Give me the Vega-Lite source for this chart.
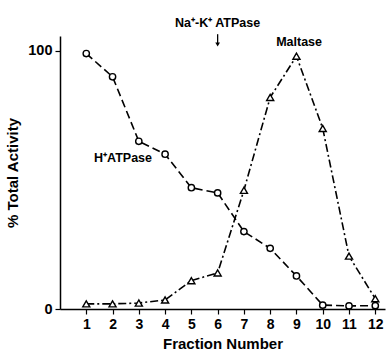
{
  "$schema": "https://vega.github.io/schema/vega-lite/v6.json",
  "autosize": "none",
  "width": 325,
  "height": 273,
  "padding": {"left": 60, "top": 36, "right": 5, "bottom": 45},
  "background": "white",
  "config": {
    "view": {"stroke": null},
    "font": "Liberation Sans",
    "axis": {"grid": false, "domainColor": "black", "tickColor": "black", "labelColor": "black", "titleColor": "black", "labelFont": "Liberation Sans", "titleFont": "Liberation Sans", "labelFontWeight": "bold", "titleFontWeight": "bold", "domainWidth": 1.5, "tickWidth": 1.2, "labelOverlap": false},
    "axisX": {"labelOverlap": false}
  },
  "datasets": {
    "curves": [
      {"fraction": 1, "activity": 99, "enzyme": "H+ATPase"},
      {"fraction": 2, "activity": 90, "enzyme": "H+ATPase"},
      {"fraction": 3, "activity": 65, "enzyme": "H+ATPase"},
      {"fraction": 4, "activity": 60, "enzyme": "H+ATPase"},
      {"fraction": 5, "activity": 47, "enzyme": "H+ATPase"},
      {"fraction": 6, "activity": 45, "enzyme": "H+ATPase"},
      {"fraction": 7, "activity": 30, "enzyme": "H+ATPase"},
      {"fraction": 8, "activity": 23.5, "enzyme": "H+ATPase"},
      {"fraction": 9, "activity": 12.8, "enzyme": "H+ATPase"},
      {"fraction": 10, "activity": 1.5, "enzyme": "H+ATPase"},
      {"fraction": 11, "activity": 1.2, "enzyme": "H+ATPase"},
      {"fraction": 12, "activity": 1.3, "enzyme": "H+ATPase"},
      {"fraction": 1, "activity": 2, "enzyme": "Maltase"},
      {"fraction": 2, "activity": 2, "enzyme": "Maltase"},
      {"fraction": 3, "activity": 2.3, "enzyme": "Maltase"},
      {"fraction": 4, "activity": 3.5, "enzyme": "Maltase"},
      {"fraction": 5, "activity": 11, "enzyme": "Maltase"},
      {"fraction": 6, "activity": 14, "enzyme": "Maltase"},
      {"fraction": 7, "activity": 46, "enzyme": "Maltase"},
      {"fraction": 8, "activity": 82, "enzyme": "Maltase"},
      {"fraction": 9, "activity": 98, "enzyme": "Maltase"},
      {"fraction": 10, "activity": 70, "enzyme": "Maltase"},
      {"fraction": 11, "activity": 20.5, "enzyme": "Maltase"},
      {"fraction": 12, "activity": 4, "enzyme": "Maltase"}
    ],
    "labels": [
      {"fraction": 6, "activity": 111, "label": "Na⁺-K⁺ ATPase"},
      {"fraction": 9.1, "activity": 103.5, "label": "Maltase"},
      {"fraction": 2.4, "activity": 58.5, "label": "H⁺ATPase"}
    ],
    "arrow": [
      {"fraction": 6, "activity": 106.5, "y2": 102.5}
    ]
  },
  "encoding": {
    "x": {"field": "fraction", "type": "quantitative", "scale": {"domain": [0, 12.37], "nice": false, "zero": false},
      "axis": {"values": [1,2,3,4,5,6,7,8,9,10,11,12], "title": "Fraction Number", "labelFontSize": 14, "titleFontSize": 15, "tickSize": 5, "labelPadding": 3, "titlePadding": 5, "labelFlush": false, "labelOverlap": false}},
    "y": {"field": "activity", "type": "quantitative", "scale": {"domain": [0, 105.8], "nice": false},
      "axis": {"values": [0, 100], "title": "% Total Activity", "labelFontSize": 14.5, "titleFontSize": 15, "tickSize": 5, "labelPadding": 3, "titlePadding": 7, "labelOverlap": false}}
  },
  "layer": [
    {
      "data": {"name": "curves"},
      "mark": {"type": "line", "color": "black", "strokeWidth": 1.6},
      "encoding": {
        "strokeDash": {"field": "enzyme", "type": "nominal", "scale": {"domain": ["H+ATPase", "Maltase"], "range": [[8, 4], [8, 3, 2, 3]]}, "legend": null}
      }
    },
    {
      "data": {"name": "curves"},
      "mark": {"type": "point", "filled": true, "fill": "white", "stroke": "black", "strokeWidth": 1.4, "opacity": 1},
      "encoding": {
        "shape": {"field": "enzyme", "type": "nominal", "scale": {"domain": ["H+ATPase", "Maltase"], "range": ["circle", "triangle-up"]}, "legend": null},
        "size": {"field": "enzyme", "type": "nominal", "scale": {"domain": ["H+ATPase", "Maltase"], "range": [40, 50]}, "legend": null}
      }
    },
    {
      "data": {"name": "labels"},
      "mark": {"type": "text", "font": "Liberation Sans", "fontWeight": "bold", "fontSize": 12.5, "color": "black", "align": "center", "baseline": "middle"},
      "encoding": {
        "text": {"field": "label"}
      }
    },
    {
      "data": {"name": "arrow"},
      "mark": {"type": "rule", "color": "black", "strokeWidth": 1.3},
      "encoding": {
        "y2": {"field": "y2"}
      }
    },
    {
      "data": {"name": "arrow"},
      "mark": {"type": "point", "shape": "triangle-down", "filled": true, "color": "black", "size": 22, "opacity": 1},
      "encoding": {
        "y": {"field": "y2", "type": "quantitative"}
      }
    }
  ]
}
